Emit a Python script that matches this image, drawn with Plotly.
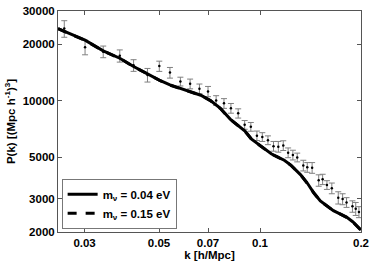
import plotly.graph_objects as go
import numpy as np

# Data (k in h/Mpc, P in (Mpc/h)^3)
k_data = [0.0261, 0.0301, 0.0341, 0.0382, 0.0420, 0.0462, 0.0501, 0.0539, 0.0579, 0.0619,
          0.0660, 0.0700, 0.0740, 0.0781, 0.0819, 0.0861, 0.0900, 0.0939, 0.0979, 0.1016,
          0.1056, 0.1097, 0.1134, 0.1173, 0.1213, 0.1253, 0.1291, 0.1346, 0.1383, 0.1430,
          0.1496, 0.1537, 0.1583, 0.1637, 0.1711, 0.1763, 0.1811, 0.1886, 0.1929, 0.1972]
P_data = [24190, 19260, 18225, 17330, 15420, 13700, 15270, 14100, 12650, 12290,
          11570, 11200, 10030, 9676, 9118, 8562, 7441, 7265, 6514, 6410,
          6163, 5725, 5693, 5773, 5286, 5141, 4990, 4522, 4419, 4394,
          3767, 3817, 3560, 3420, 3046, 2995, 2875, 2739, 2661, 2556]
P_err = [2450, 1720, 1300, 1290, 1100, 1140, 956, 920, 680, 734,
         690, 701, 597, 576, 542, 484, 399, 389, 376, 344,
         331, 341, 373, 343, 316, 307, 268, 296, 263, 288,
         263, 241, 190, 224, 228, 201, 171, 191, 211, 172]

k_model = [0.0250, 0.0261, 0.0301, 0.0341, 0.0382, 0.0420, 0.0462, 0.0501, 0.0539, 0.0583,
           0.0623, 0.0666, 0.0712, 0.0762, 0.0815, 0.0863, 0.0902, 0.0944, 0.0987, 0.1032,
           0.1080, 0.1130, 0.1181, 0.1236, 0.1322, 0.1383, 0.1446, 0.1513, 0.1583, 0.1655,
           0.1731, 0.1811, 0.1893, 0.2000]
P_m004 = [24200, 23360, 20980, 18400, 16820, 15200, 13820, 12860, 12120, 11550,
          11150, 10690, 10010, 9100, 7980, 7386, 6890, 6234, 5874, 5534,
          5214, 5012, 4818, 4540, 4030, 3644, 3234, 2930, 2760, 2600,
          2500, 2400, 2262, 2048]
P_m015 = [24150, 23320, 20940, 18370, 16800, 15180, 13800, 12840, 12100, 11530,
          11130, 10670, 9990, 9080, 7960, 7370, 6875, 6220, 5862, 5522,
          5204, 5002, 4808, 4530, 4022, 3636, 3228, 2924, 2754, 2594,
          2495, 2395, 2258, 2045]

x_ticks = [0.03, 0.05, 0.07, 0.1, 0.2]
x_ticklabels = ["0.03", "0.05", "0.07", "0.1", "0.2"]
y_ticks = [2000, 3000, 5000, 10000, 20000, 30000]
y_ticklabels = ["2000", "3000", "5000", "10000", "20000", "30000"]

FONT = "Liberation Sans, Arial, sans-serif"
AXC = "#555555"

fig = go.Figure()
fig.add_trace(go.Scatter(
    x=k_data, y=P_data, mode="markers",
    marker=dict(color="black", size=2.5),
    error_y=dict(type="data", array=P_err, color="#808080", thickness=1, width=3),
    showlegend=False))
fig.add_trace(go.Scatter(
    x=k_model, y=P_m004, mode="lines",
    line=dict(color="black", width=3), name="m<sub>ν</sub> = 0.04 eV"))
fig.add_trace(go.Scatter(
    x=k_model, y=P_m015, mode="lines",
    line=dict(color="black", width=3, dash="dash"), name="m<sub>ν</sub> = 0.15 eV"))

axis_common = dict(
    showline=True, linecolor=AXC, linewidth=1, mirror="allticks",
    ticks="inside", ticklen=4, tickcolor=AXC, showgrid=False, zeroline=False,
    tickfont=dict(family=FONT, size=11.5, color="black", weight="bold"),
)

fig.update_layout(
    width=374, height=264,
    margin=dict(l=58, r=8, t=5, b=32),
    paper_bgcolor="white", plot_bgcolor="white",
    font=dict(family=FONT, color="black"),
    xaxis=dict(type="log", range=[np.log10(0.025), np.log10(0.2)],
               tickvals=x_ticks, ticktext=x_ticklabels,
               title=dict(text="k [h/Mpc]", font=dict(family=FONT, size=11.5, weight="bold"), standoff=1),
               **axis_common),
    yaxis=dict(type="log", range=[np.log10(2000), np.log10(30000)],
               tickvals=y_ticks, ticktext=y_ticklabels,
               title=dict(text="P(k) [(Mpc h<sup>-1</sup>)<sup>3</sup>]",
                          font=dict(family=FONT, size=11.5, weight="bold"), standoff=4),
               **axis_common),
    legend=dict(x=0.012, y=0.015, xanchor="left", yanchor="bottom",
                bgcolor="white", bordercolor="#777777", borderwidth=1,
                font=dict(family=FONT, size=11.5, color="black", weight="bold"),
                tracegroupgap=0, itemwidth=30),
)

fig.write_html("out.html", config={"displayModeBar": False},
               post_script="document.body.style.margin='0';document.body.style.padding='0';")
